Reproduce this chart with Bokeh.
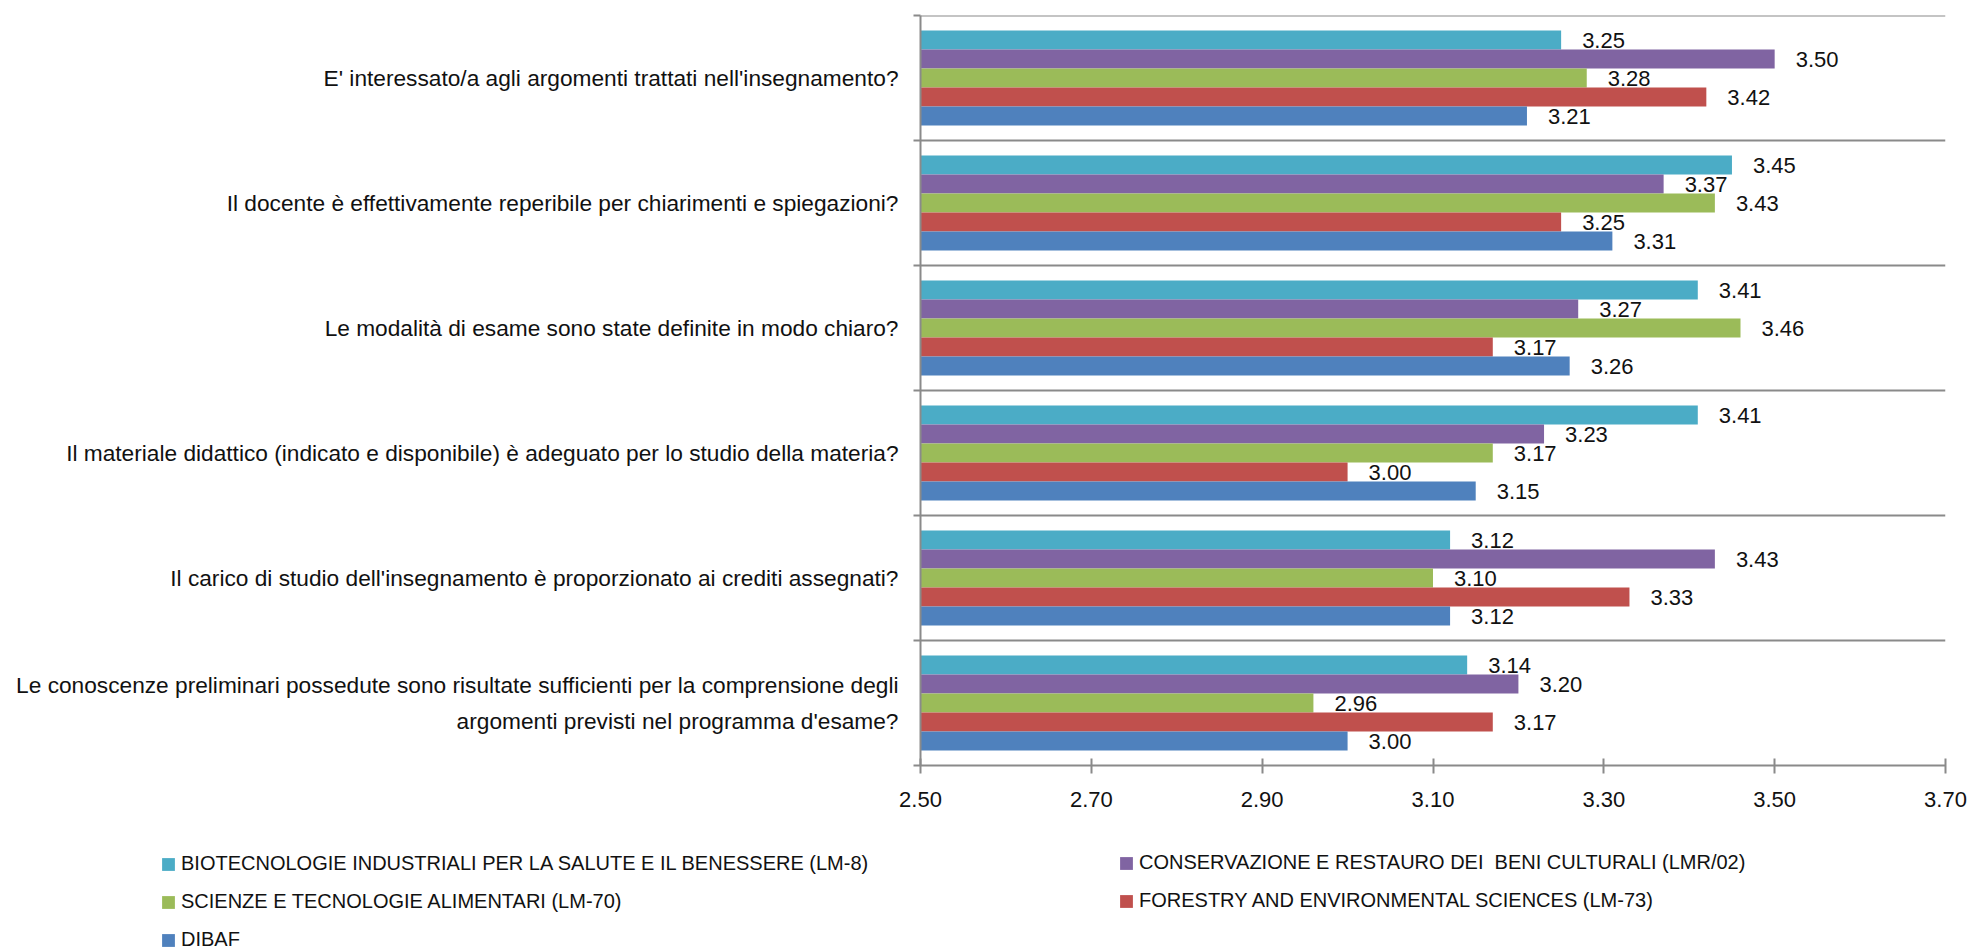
from bokeh.plotting import figure
from bokeh.layouts import column
from bokeh.models import (Range1d, FixedTicker, NumeralTickFormatter, ColumnDataSource,
                          Legend, LegendItem)
from bokeh.embed import file_html
from bokeh.resources import INLINE
from bokeh.core.properties import value

# ---------------- data ----------------
questions = [
    "E' interessato/a agli argomenti trattati nell'insegnamento?",
    "Il docente è effettivamente reperibile per chiarimenti e spiegazioni?",
    "Le modalità di esame sono state definite in modo chiaro?",
    "Il materiale didattico (indicato e disponibile) è adeguato per lo studio della materia?",
    "Il carico di studio dell'insegnamento è proporzionato ai crediti assegnati?",
    "Le conoscenze preliminari possedute sono risultate sufficienti per la comprensione degli\nargomenti previsti nel programma d'esame?",
]
series_names = [
    "BIOTECNOLOGIE INDUSTRIALI PER LA SALUTE E IL BENESSERE (LM-8)",
    "CONSERVAZIONE E RESTAURO DEI  BENI CULTURALI (LMR/02)",
    "SCIENZE E TECNOLOGIE ALIMENTARI (LM-70)",
    "FORESTRY AND ENVIRONMENTAL SCIENCES (LM-73)",
    "DIBAF",
]
biotec = [3.25, 3.45, 3.41, 3.41, 3.12, 3.14]
conserv = [3.50, 3.37, 3.27, 3.23, 3.43, 3.20]
scienze = [3.28, 3.43, 3.46, 3.17, 3.10, 2.96]
forestry = [3.42, 3.25, 3.17, 3.00, 3.33, 3.17]
dibaf = [3.21, 3.31, 3.26, 3.15, 3.12, 3.00]
series_values = [biotec, conserv, scienze, forestry, dibaf]
colors = ["#4BACC6", "#8064A2", "#9BBB59", "#C0504D", "#4F81BD"]
x_ticks = [2.50, 2.70, 2.90, 3.10, 3.30, 3.50, 3.70]

# ---------------- styling ----------------
FONT = "Liberation Sans"
TXT = "#111111"
GRID = "#8a8a8a"
BAR_H = 0.152
n_q = len(questions)
W = 1968

p = figure(width=W, height=820,
           x_range=Range1d(x_ticks[0], x_ticks[-1]),
           y_range=Range1d(0, n_q + 0.0002),
           output_backend="svg", toolbar_location=None,
           min_border_left=920, min_border_right=23,
           min_border_top=15, min_border_bottom=55,
           outline_line_color=None, frame_align=False)

for j, (name, vals, col) in enumerate(zip(series_names, series_values, colors)):
    ys = [n_q - 0.5 - i + (2 - j) * BAR_H for i in range(n_q)]
    src = ColumnDataSource(dict(x=vals, y=ys, label=[f"{v:.2f}" for v in vals]))
    p.hbar(y="y", right="x", left=x_ticks[0], height=BAR_H, source=src,
           fill_color=col, line_color=None)
    p.text(x="x", y="y", text="label", source=src, x_offset=21,
           text_align="left", text_baseline="middle",
           text_font=value(FONT), text_font_size="22px", text_color=TXT)

# x axis
xa = p.xaxis[0]
xa.ticker = FixedTicker(ticks=x_ticks)
xa.formatter = NumeralTickFormatter(format="0.00")
xa.major_tick_in = 7
xa.major_tick_out = 8
xa.minor_tick_line_color = None
xa.axis_line_color = GRID
xa.axis_line_width = 2
xa.major_tick_line_color = GRID
xa.major_tick_line_width = 2
xa.major_label_text_font = FONT
xa.major_label_text_font_size = "22px"
xa.major_label_text_color = TXT
xa.major_label_standoff = 18

# y axis (categories, ticks at band boundaries)
ya = p.yaxis[0]
ya.ticker = FixedTicker(ticks=[i + 0.5 for i in range(n_q)],
                        minor_ticks=list(range(n_q + 1)))
ya.major_label_overrides = {n_q - 0.5 - i: q for i, q in enumerate(questions)}
ya.major_tick_line_color = None
ya.major_tick_in = 0
ya.major_tick_out = 0
ya.minor_tick_in = 0
ya.minor_tick_out = 7
ya.minor_tick_line_color = GRID
ya.minor_tick_line_width = 2
ya.axis_line_color = GRID
ya.axis_line_width = 2
ya.major_label_text_font = FONT
ya.major_label_text_font_size = "22.7px"
ya.major_label_text_color = TXT
ya.major_label_text_line_height = 1.4
ya.major_label_standoff = 15

p.xgrid.visible = False
p.ygrid.ticker = FixedTicker(ticks=list(range(n_q + 1)))
p.ygrid.grid_line_color = GRID
p.ygrid.grid_line_width = 2

# ---------------- legend (own strip below the chart) ----------------
pl = figure(width=W, height=131, x_range=Range1d(0, 1), y_range=Range1d(0, 1),
            output_backend="svg", toolbar_location=None,
            x_axis_location=None, y_axis_location=None,
            min_border_left=0, min_border_right=0, min_border_top=0, min_border_bottom=0,
            outline_line_color=None, frame_align=False)
pl.xgrid.visible = False
pl.ygrid.visible = False
# proxy glyphs (outside the visible range) so the legends can show the colour keys
proxies = [pl.hbar(y=[-5], right=[-4], left=-5, height=1, fill_color=c, line_color=None)
           for c in colors]

legend_style = dict(
    orientation="vertical",
    label_text_font=FONT, label_text_font_size="20px", label_text_color=TXT,
    glyph_width=16, glyph_height=16, label_standoff=5, spacing=15,
    label_height=20, padding=0, margin=0,
    border_line_color=None, background_fill_alpha=0,
)
legend_a = Legend(items=[LegendItem(label=series_names[k], renderers=[proxies[k]])
                         for k in (0, 2, 4)],
                  location=(160, 0), **legend_style)
legend_b = Legend(items=[LegendItem(label=series_names[k], renderers=[proxies[k]])
                         for k in (1, 3)],
                  location=(1118, 39), **legend_style)
pl.add_layout(legend_a)
pl.add_layout(legend_b)

open("out.html", "w").write(file_html(column(p, pl), INLINE))
